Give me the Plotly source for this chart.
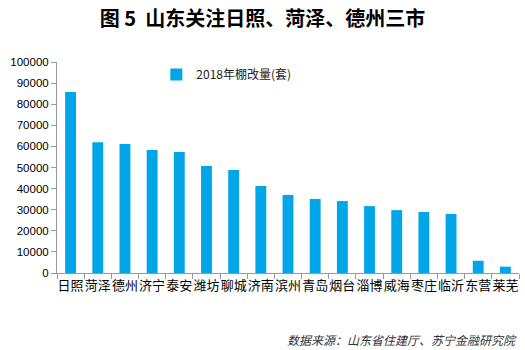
import plotly.graph_objects as go

cities = ["日照", "菏泽", "德州", "济宁", "泰安", "潍坊", "聊城", "济南", "滨州",
          "青岛", "烟台", "淄博", "威海", "枣庄", "临沂", "东营", "莱芜"]
values = [85800, 62000, 61100, 58300, 57300, 50700, 48800, 41200, 37000,
          35100, 34100, 31700, 29800, 28900, 28000, 5800, 3000]
y_ticks = list(range(0, 100001, 10000))
series_name = "2018年棚改量(套)"
title_text = "图 5  山东关注日照、菏泽、德州三市"
source_text = "数据来源：山东省住建厅、苏宁金融研究院"

FONT = "Noto Sans CJK SC, Liberation Sans, sans-serif"

fig = go.Figure()
fig.add_trace(go.Bar(x=cities, y=values, name=series_name,
                     marker=dict(color="#00A6E8", line=dict(width=0)),
                     showlegend=True))

fig.update_layout(
    width=525, height=350,
    margin=dict(l=57, r=6, t=62, b=77),
    paper_bgcolor="white", plot_bgcolor="white",
    bargap=0.6,
    font=dict(family=FONT, color="#000000", size=11),
    title=dict(text="<b>" + title_text + "</b>", x=0.5, xanchor="center",
               y=0.945, yanchor="middle", font=dict(size=20, family=FONT, color="#000")),
    showlegend=True,
    legend=dict(x=0.215, y=1.01, xanchor="left", yanchor="top", orientation="h",
                bgcolor="rgba(0,0,0,0)", font=dict(size=12, family=FONT, color="#222"),
                itemwidth=30),
    xaxis=dict(showline=True, linecolor="#999999", linewidth=1,
               ticks="outside", ticklen=5, tickcolor="#999999",
               tickson="boundaries", showgrid=False, tickangle=0,
               tickfont=dict(size=13, family=FONT, color="#000")),
    yaxis=dict(range=[0, 100000], tickvals=y_ticks, tickformat="d", showline=True,
               linecolor="#999999", linewidth=1, ticks="outside", ticklen=5,
               tickcolor="#999999", showgrid=False, zeroline=False,
               tickfont=dict(size=11.5, family="Liberation Sans, sans-serif", color="#000")),
    annotations=[dict(text="<i>" + source_text + "</i>", xref="paper", yref="paper",
                      x=1.0, y=-0.317, xanchor="right", yanchor="middle",
                      showarrow=False, font=dict(size=12, family=FONT, color="#333"))],
)

fig.write_html("out.html")
